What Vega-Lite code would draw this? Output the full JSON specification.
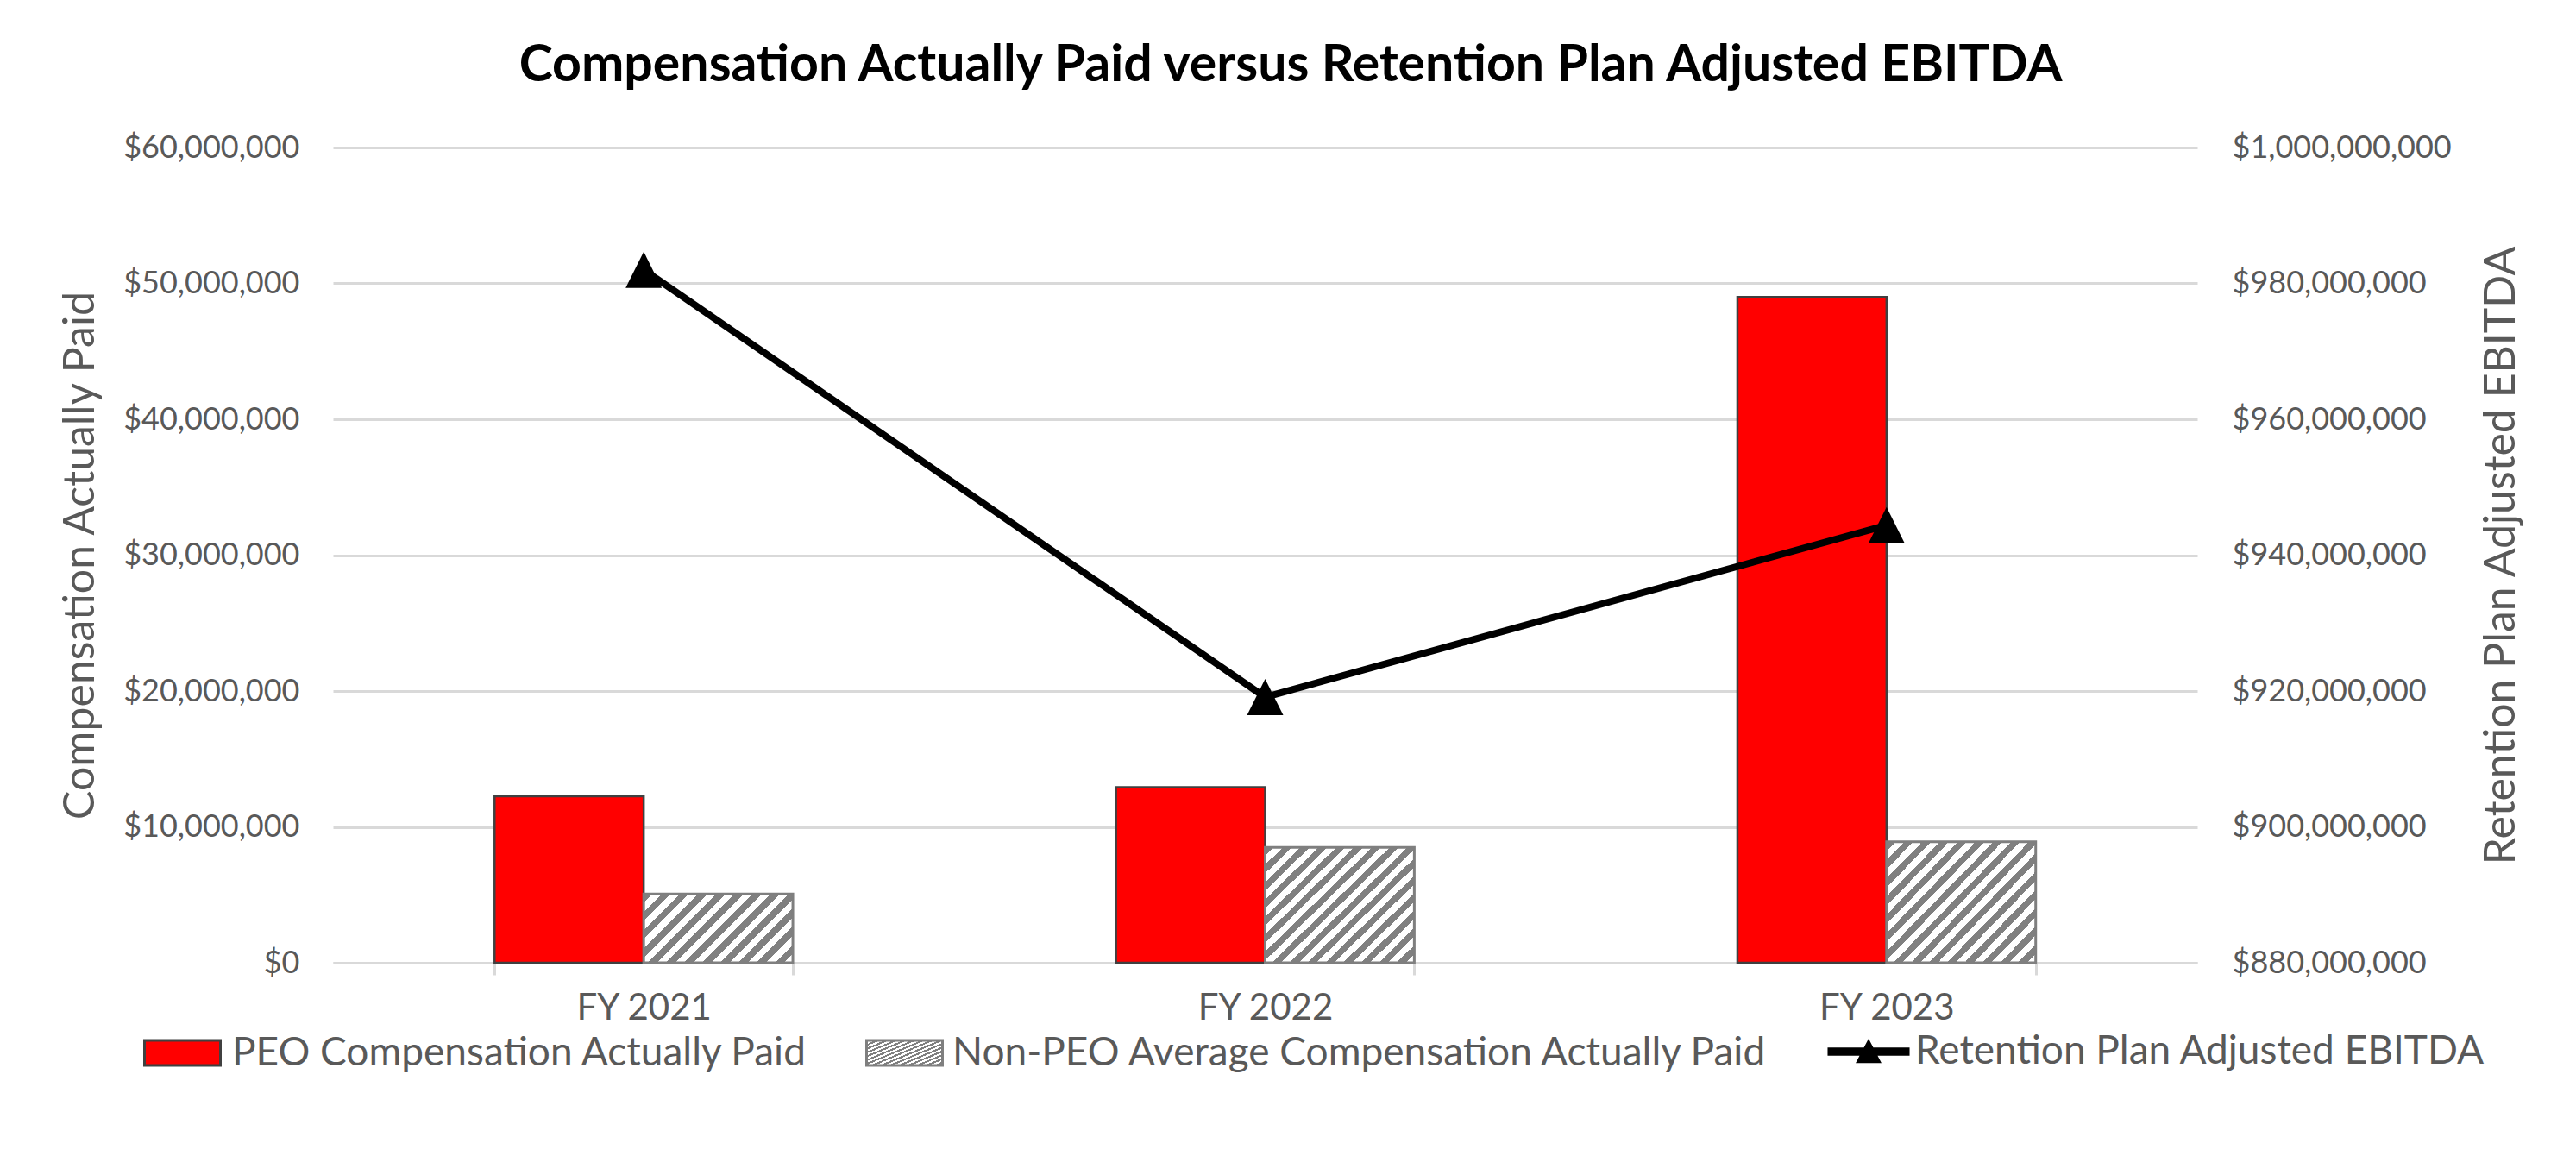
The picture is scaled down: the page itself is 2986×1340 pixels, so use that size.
{
  "$schema": "https://vega.github.io/schema/vega-lite/v6.json",
  "width": 2161,
  "height": 945,
  "autosize": {"type": "none"},
  "padding": {"left": 386, "top": 171, "right": 439, "bottom": 224},
  "background": "#FFFFFF",
  "title": {
    "text": "Compensation Actually Paid versus Retention Plan Adjusted EBITDA",
    "font": "Lato",
    "fontSize": 59,
    "fontWeight": "bold",
    "color": "#000000",
    "anchor": "middle",
    "frame": "bounds",
    "baseline": "alphabetic",
    "offset": 0
  },
  "datasets": {
    "comp": [
      {"year": "FY 2021", "series": "PEO Compensation Actually Paid", "value": 12250000},
      {"year": "FY 2021", "series": "Non-PEO Average Compensation Actually Paid", "value": 5070000},
      {"year": "FY 2022", "series": "PEO Compensation Actually Paid", "value": 12920000},
      {"year": "FY 2022", "series": "Non-PEO Average Compensation Actually Paid", "value": 8500000},
      {"year": "FY 2023", "series": "PEO Compensation Actually Paid", "value": 49000000},
      {"year": "FY 2023", "series": "Non-PEO Average Compensation Actually Paid", "value": 8900000}
    ],
    "ebitda": [
      {"year": "FY 2021", "series": "Retention Plan Adjusted EBITDA", "ebitda": 982000000},
      {"year": "FY 2022", "series": "Retention Plan Adjusted EBITDA", "ebitda": 919100000},
      {"year": "FY 2023", "series": "Retention Plan Adjusted EBITDA", "ebitda": 944400000}
    ]
  },
  "layer": [
    {
      "data": {"name": "comp"},
      "layer": [
        {
          "transform": [{"filter": "datum.series === 'PEO Compensation Actually Paid'"}],
          "mark": {"type": "bar", "stroke": "#404040", "strokeWidth": 2.5},
          "encoding": {
            "x": {"field": "year", "type": "nominal", "title": null, "sort": null, "scale": {"paddingInner": 0.52, "paddingOuter": 0.26}},
            "xOffset": {"field": "series", "type": "nominal", "sort": null, "scale": {"domain": ["PEO Compensation Actually Paid", "Non-PEO Average Compensation Actually Paid"], "paddingInner": 0, "paddingOuter": 0}},
            "y": {
              "field": "value", "type": "quantitative", "title": "Compensation Actually Paid",
              "scale": {"domain": [0, 60000000], "nice": false},
              "axis": {"orient": "left", "values": [0, 10000000, 20000000, 30000000, 40000000, 50000000, 60000000], "format": "$,.0f", "grid": true, "gridColor": "#D9D9D9", "gridWidth": 3, "labelPadding": 39, "titleX": -278, "titleBaseline": "alphabetic", "titleAngle": -90}
            },
            "fill": {
              "field": "series", "type": "nominal",
              "scale": {"domain": ["PEO Compensation Actually Paid"], "range": ["#FF0000"]},
              "legend": {
                "orient": "none",
                "legendX": -220,
                "legendY": 1004,
                "direction": "horizontal",
                "title": null,
                "symbolType": "M-1,-0.33L1,-0.33L1,0.33L-1,0.33Z",
                "symbolSize": 7744,
                "symbolStrokeColor": "#404040",
                "symbolStrokeWidth": 3,
                "labelFont": "Lato",
                "labelFontSize": 46,
                "labelColor": "#595959",
                "labelOffset": 12,
                "labelLimit": 2000
              }
            }
          }
        },
        {
          "transform": [{"filter": "datum.series === 'Non-PEO Average Compensation Actually Paid'"}],
          "mark": {"type": "bar", "strokeWidth": 3},
          "encoding": {
            "x": {"field": "year", "type": "nominal", "title": null, "sort": null},
            "xOffset": {"field": "series", "type": "nominal", "sort": null},
            "y": {"field": "value", "type": "quantitative", "title": "Compensation Actually Paid"},
            "stroke": {
              "field": "series", "type": "nominal",
              "scale": {"domain": ["Non-PEO Average Compensation Actually Paid"], "range": ["#7F7F7F"]},
              "legend": {
                "orient": "none",
                "legendX": 617,
                "legendY": 1004,
                "direction": "horizontal",
                "title": null,
                "symbolType": "M-1,-0.33L1,-0.33L1,0.33L-1,0.33Z",
                "symbolSize": 7744,
                "symbolStrokeWidth": 3,
                "labelFont": "Lato",
                "labelFontSize": 46,
                "labelColor": "#595959",
                "labelOffset": 10,
                "labelLimit": 2000
              }
            },
            "fill": {
              "condition": {"test": "datum.year === 'FY 2021'", "value": {"gradient": "linear", "x1": 0, "y1": 0, "x2": 1.205, "y2": 0.557, "stops": [
                {"offset": 0, "color": "#808080"}, {"offset": 0.0417, "color": "#808080"}, {"offset": 0.0417, "color": "#FFFFFF"}, {"offset": 0.0833, "color": "#FFFFFF"},
                {"offset": 0.0833, "color": "#808080"}, {"offset": 0.125, "color": "#808080"}, {"offset": 0.125, "color": "#FFFFFF"}, {"offset": 0.1667, "color": "#FFFFFF"},
                {"offset": 0.1667, "color": "#808080"}, {"offset": 0.2083, "color": "#808080"}, {"offset": 0.2083, "color": "#FFFFFF"}, {"offset": 0.25, "color": "#FFFFFF"},
                {"offset": 0.25, "color": "#808080"}, {"offset": 0.2917, "color": "#808080"}, {"offset": 0.2917, "color": "#FFFFFF"}, {"offset": 0.3333, "color": "#FFFFFF"},
                {"offset": 0.3333, "color": "#808080"}, {"offset": 0.375, "color": "#808080"}, {"offset": 0.375, "color": "#FFFFFF"}, {"offset": 0.4167, "color": "#FFFFFF"},
                {"offset": 0.4167, "color": "#808080"}, {"offset": 0.4583, "color": "#808080"}, {"offset": 0.4583, "color": "#FFFFFF"}, {"offset": 0.5, "color": "#FFFFFF"},
                {"offset": 0.5, "color": "#808080"}, {"offset": 0.5417, "color": "#808080"}, {"offset": 0.5417, "color": "#FFFFFF"}, {"offset": 0.5833, "color": "#FFFFFF"},
                {"offset": 0.5833, "color": "#808080"}, {"offset": 0.625, "color": "#808080"}, {"offset": 0.625, "color": "#FFFFFF"}, {"offset": 0.6667, "color": "#FFFFFF"},
                {"offset": 0.6667, "color": "#808080"}, {"offset": 0.7083, "color": "#808080"}, {"offset": 0.7083, "color": "#FFFFFF"}, {"offset": 0.75, "color": "#FFFFFF"},
                {"offset": 0.75, "color": "#808080"}, {"offset": 0.7917, "color": "#808080"}, {"offset": 0.7917, "color": "#FFFFFF"}, {"offset": 0.8333, "color": "#FFFFFF"},
                {"offset": 0.8333, "color": "#808080"}, {"offset": 0.875, "color": "#808080"}, {"offset": 0.875, "color": "#FFFFFF"}, {"offset": 0.9167, "color": "#FFFFFF"},
                {"offset": 0.9167, "color": "#808080"}, {"offset": 0.9583, "color": "#808080"}, {"offset": 0.9583, "color": "#FFFFFF"}, {"offset": 1, "color": "#FFFFFF"}
              ]}},
              "value": {"gradient": "linear", "x1": 0, "y1": 0, "x2": 1.101, "y2": 0.872, "stops": [
                {"offset": 0, "color": "#808080"}, {"offset": 0.0333, "color": "#808080"}, {"offset": 0.0333, "color": "#FFFFFF"}, {"offset": 0.0667, "color": "#FFFFFF"},
                {"offset": 0.0667, "color": "#808080"}, {"offset": 0.1, "color": "#808080"}, {"offset": 0.1, "color": "#FFFFFF"}, {"offset": 0.1333, "color": "#FFFFFF"},
                {"offset": 0.1333, "color": "#808080"}, {"offset": 0.1667, "color": "#808080"}, {"offset": 0.1667, "color": "#FFFFFF"}, {"offset": 0.2, "color": "#FFFFFF"},
                {"offset": 0.2, "color": "#808080"}, {"offset": 0.2333, "color": "#808080"}, {"offset": 0.2333, "color": "#FFFFFF"}, {"offset": 0.2667, "color": "#FFFFFF"},
                {"offset": 0.2667, "color": "#808080"}, {"offset": 0.3, "color": "#808080"}, {"offset": 0.3, "color": "#FFFFFF"}, {"offset": 0.3333, "color": "#FFFFFF"},
                {"offset": 0.3333, "color": "#808080"}, {"offset": 0.3667, "color": "#808080"}, {"offset": 0.3667, "color": "#FFFFFF"}, {"offset": 0.4, "color": "#FFFFFF"},
                {"offset": 0.4, "color": "#808080"}, {"offset": 0.4333, "color": "#808080"}, {"offset": 0.4333, "color": "#FFFFFF"}, {"offset": 0.4667, "color": "#FFFFFF"},
                {"offset": 0.4667, "color": "#808080"}, {"offset": 0.5, "color": "#808080"}, {"offset": 0.5, "color": "#FFFFFF"}, {"offset": 0.5333, "color": "#FFFFFF"},
                {"offset": 0.5333, "color": "#808080"}, {"offset": 0.5667, "color": "#808080"}, {"offset": 0.5667, "color": "#FFFFFF"}, {"offset": 0.6, "color": "#FFFFFF"},
                {"offset": 0.6, "color": "#808080"}, {"offset": 0.6333, "color": "#808080"}, {"offset": 0.6333, "color": "#FFFFFF"}, {"offset": 0.6667, "color": "#FFFFFF"},
                {"offset": 0.6667, "color": "#808080"}, {"offset": 0.7, "color": "#808080"}, {"offset": 0.7, "color": "#FFFFFF"}, {"offset": 0.7333, "color": "#FFFFFF"},
                {"offset": 0.7333, "color": "#808080"}, {"offset": 0.7667, "color": "#808080"}, {"offset": 0.7667, "color": "#FFFFFF"}, {"offset": 0.8, "color": "#FFFFFF"},
                {"offset": 0.8, "color": "#808080"}, {"offset": 0.8333, "color": "#808080"}, {"offset": 0.8333, "color": "#FFFFFF"}, {"offset": 0.8667, "color": "#FFFFFF"},
                {"offset": 0.8667, "color": "#808080"}, {"offset": 0.9, "color": "#808080"}, {"offset": 0.9, "color": "#FFFFFF"}, {"offset": 0.9333, "color": "#FFFFFF"},
                {"offset": 0.9333, "color": "#808080"}, {"offset": 0.9667, "color": "#808080"}, {"offset": 0.9667, "color": "#FFFFFF"}, {"offset": 1, "color": "#FFFFFF"}
              ]}
            }
          }
        }
      ]
    },
    {
      "data": {"name": "ebitda"},
      "encoding": {
        "x": {"field": "year", "type": "nominal", "title": null, "sort": null},
        "y": {
          "field": "ebitda", "type": "quantitative", "title": "Retention Plan Adjusted EBITDA",
          "scale": {"domain": [880000000, 1000000000], "nice": false, "zero": false},
          "axis": {"orient": "right", "values": [880000000, 900000000, 920000000, 940000000, 960000000, 980000000, 1000000000], "format": "$,.0f", "grid": false, "titleAngle": -90, "titleBaseline": "alphabetic", "titleX": 367, "labelPadding": 40}
        }
      },
      "layer": [
        {"mark": {"type": "line", "color": "#000000", "strokeWidth": 8, "strokeJoin": "round"}},
        {
          "mark": {"type": "point", "shape": "M0,-1L1,1L-1,1Z", "size": 1764, "filled": true, "color": "#000000", "strokeWidth": 0},
          "encoding": {
            "opacity": {
              "field": "series", "type": "nominal",
              "scale": {"type": "ordinal", "domain": ["Retention Plan Adjusted EBITDA"], "range": [1]},
              "legend": {
                "orient": "none",
                "legendX": 1736,
                "legendY": 1004,
                "direction": "horizontal",
                "title": null,
                "symbolType": "M-1.08,-0.11L1.08,-0.11L1.08,0.11L-1.08,0.11Z M0,-0.34L0.34,0.3L-0.34,0.3Z",
                "symbolSize": 7744,
                "symbolFillColor": "#000000",
                "symbolStrokeWidth": 0,
                "labelFont": "Lato",
                "labelFontSize": 46,
                "labelColor": "#595959",
                "labelOffset": 10,
                "labelLimit": 2000
              }
            }
          }
        }
      ]
    }
  ],
  "resolve": {"scale": {"y": "independent"}},
  "config": {
    "font": "Lato",
    "view": {"stroke": null},
    "axis": {"labelFont": "Lato", "labelColor": "#595959", "titleFont": "Lato", "titleColor": "#595959", "titleFontWeight": "normal", "labelLimit": 1000, "titleLimit": 2000},
    "axisX": {"labelFontSize": 42, "tickBand": "extent", "ticks": true, "tickSize": 14, "tickColor": "#D9D9D9", "tickWidth": 3, "domainColor": "#D9D9D9", "domainWidth": 3, "labelPadding": 18, "labelAngle": 0, "grid": false},
    "axisY": {"labelFontSize": 36, "titleFontSize": 50, "domain": false, "ticks": false}
  }
}
